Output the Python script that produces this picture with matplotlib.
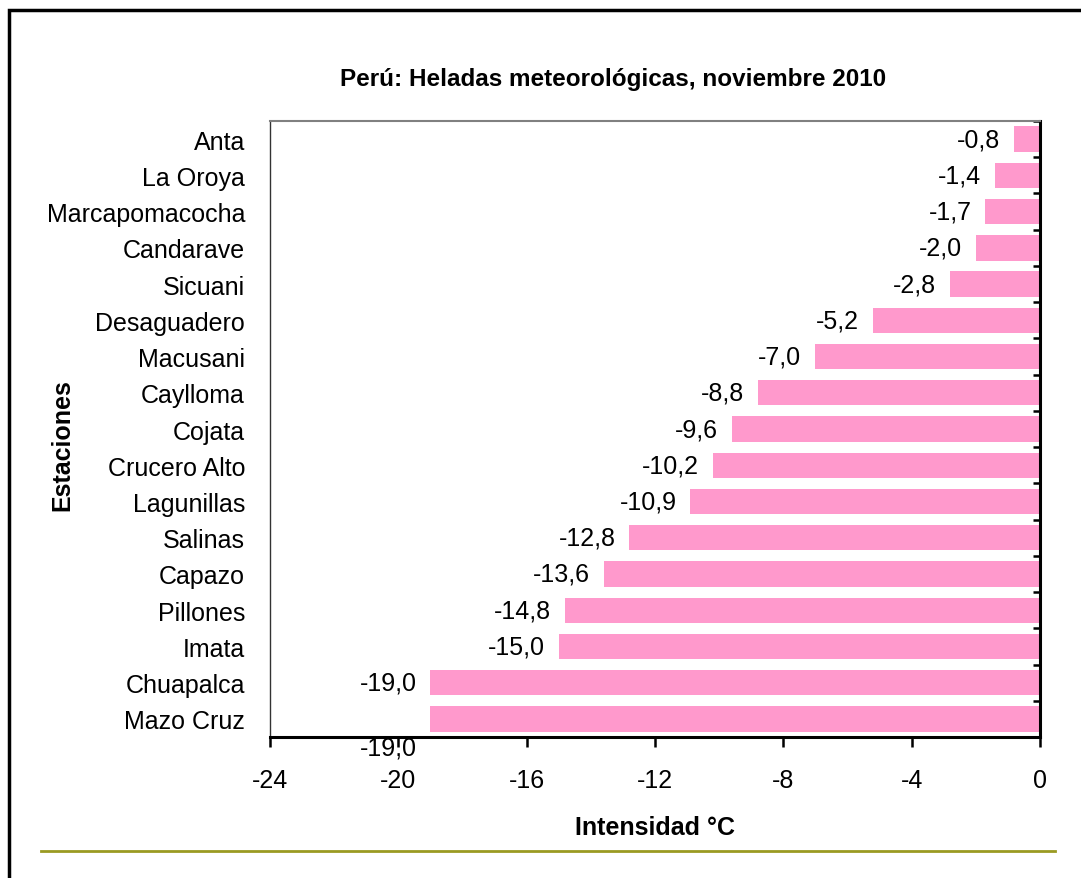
import numpy as np
import matplotlib
matplotlib.use("Agg")
import matplotlib.pyplot as plt
from matplotlib.patches import Rectangle
from matplotlib.lines import Line2D

plt.rcParams['font.family'] = ['Liberation Sans Narrow', 'Liberation Sans', 'DejaVu Sans']

# estaciones y temperatura minima (de arriba hacia abajo)
estaciones = ["Anta", "La Oroya", "Marcapomacocha", "Candarave", "Sicuani",
              "Desaguadero", "Macusani", "Caylloma", "Cojata", "Crucero Alto",
              "Lagunillas", "Salinas", "Capazo", "Pillones", "Imata",
              "Chuapalca", "Mazo Cruz"]
intensidad = [-0.8, -1.4, -1.7, -2.0, -2.8, -5.2, -7.0, -8.8, -9.6, -10.2,
              -10.9, -12.8, -13.6, -14.8, -15.0, -19.0, -19.0]
xticks = [-24, -20, -16, -12, -8, -4, 0]

fig = plt.figure(figsize=(10.81, 8.79), dpi=100)
ax = fig.add_axes([0.2498, 0.1604, 0.962 - 0.2498, 0.8612 - 0.1604])

n = len(estaciones)
ypos = np.arange(n)[::-1]
ax.barh(ypos, intensidad, height=0.70, color="#FF99CC", edgecolor="none", zorder=2)

for i, (y, v) in enumerate(zip(ypos, intensidad)):
    # la ultima etiqueta queda algo mas abajo, sobre el eje
    dy = -0.78 if i == n - 1 else 0
    ax.annotate(("%.1f" % v).replace(".", ","), (v, y + dy), xytext=(-10, 0),
                textcoords="offset points", ha="right", va="center", fontsize=18,
                annotation_clip=False, zorder=5)

ax.set_xlim(-24, 0)
ax.set_ylim(-0.5, n - 0.5)
ax.set_xticks(xticks)
ax.set_xticklabels([str(t) for t in xticks], fontsize=18)
ax.set_yticks(ypos)
ax.set_yticklabels(estaciones, fontsize=18)
ax.tick_params(axis="y", which="major", length=0, pad=18)
ax.set_yticks(np.arange(n + 1) - 0.5, minor=True)
ax.tick_params(axis="y", which="minor", left=False, right=True, direction="in",
               length=5, width=1.8, color="black")
ax.tick_params(axis="x", direction="out", length=7, width=1.8, pad=15)

ax.spines["left"].set_color("#333333")
ax.spines["left"].set_linewidth(1.0)
ax.spines["top"].set_color("#808080")
ax.spines["top"].set_linewidth(1.5)
ax.spines["right"].set_linewidth(2.2)
ax.spines["bottom"].set_linewidth(2.2)

ax.set_title("Perú: Heladas meteorológicas, noviembre 2010", fontsize=17.5,
             fontweight="bold", pad=26, x=0.445)
ax.set_xlabel("Intensidad °C", fontsize=18, fontweight="bold", labelpad=17)
fig.text(0.058, 0.494, "Estaciones", rotation=90, ha="center", va="center",
         fontsize=18, fontweight="bold")

# marco exterior y linea inferior
fig.patches.append(Rectangle((0.0085, -0.05), 1.2, 1.05 - 0.0125, transform=fig.transFigure,
                             fill=False, edgecolor="black", linewidth=2.5))
fig.lines.append(Line2D([0.038, 0.976], [1 - 852 / 879] * 2, transform=fig.transFigure,
                        color="#9A9A22", linewidth=2))

fig.savefig("out.png", dpi=100)
